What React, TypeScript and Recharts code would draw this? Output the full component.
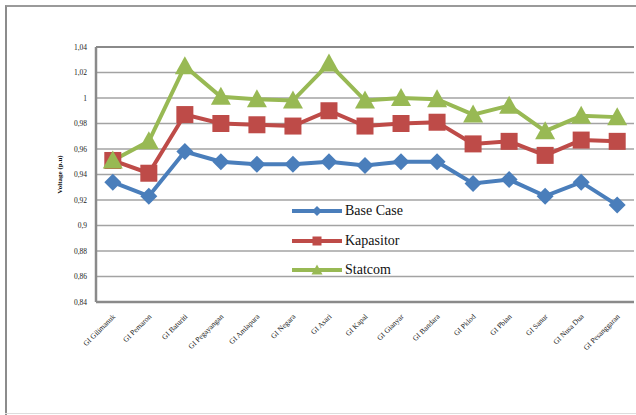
import React from 'react';
import { LineChart, Line, XAxis, YAxis, CartesianGrid, ReferenceLine } from 'recharts';

const categories = ['GI Gilimanuk', 'GI Pemaron', 'GI Baturiti', 'GI Pegayangan', 'GI Amlapura', 'GI Negara', 'GI Asari', 'GI Kapal', 'GI Gianyar', 'GI Bandara', 'GI Pklod', 'GI Pbian', 'GI Sanur', 'GI Nusa Dua', 'GI Pesanggaran'];
const baseCase = [0.934, 0.923, 0.958, 0.950, 0.948, 0.948, 0.950, 0.947, 0.950, 0.950, 0.933, 0.936, 0.923, 0.934, 0.916];
const kapasitor = [0.951, 0.941, 0.987, 0.980, 0.979, 0.978, 0.990, 0.978, 0.980, 0.981, 0.964, 0.966, 0.955, 0.967, 0.966];
const statcom = [0.951, 0.966, 1.025, 1.001, 0.999, 0.998, 1.027, 0.998, 1.000, 0.999, 0.987, 0.994, 0.974, 0.986, 0.985];
const yTicks = [0.84, 0.86, 0.88, 0.9, 0.92, 0.94, 0.96, 0.98, 1, 1.02, 1.04];

const data = categories.map((c, i) => ({ name: c, base: baseCase[i], kap: kapasitor[i], stat: statcom[i] }));

const BLUE = '#4a7ebb';
const RED = '#be4b48';
const GREEN = '#98b954';
const SERIF = "'Liberation Serif', 'DejaVu Serif', serif";

const diamondPts = (cx: number, cy: number, r: number) => `${cx},${cy - r} ${cx + r},${cy} ${cx},${cy + r} ${cx - r},${cy}`;
const triPts = (cx: number, cy: number, s: number) => `${cx},${cy - 10 * s} ${cx + 10 * s},${cy + 8 * s} ${cx - 10 * s},${cy + 8 * s}`;

const diamondDot = (p: any) => {
  if (p.cx == null || p.cy == null) return <g key={p.index} />;
  return <polygon key={`d${p.index}`} points={diamondPts(p.cx, p.cy, 8.5)} fill={BLUE} />;
};
const squareDot = (p: any) => {
  if (p.cx == null || p.cy == null) return <g key={p.index} />;
  return <rect key={`s${p.index}`} x={p.cx - 8.5} y={p.cy - 8.5} width={17} height={17} fill={RED} />;
};
const triDot = (p: any) => {
  if (p.cx == null || p.cy == null) return <g key={p.index} />;
  return <polygon key={`t${p.index}`} points={triPts(p.cx, p.cy, 1)} fill={GREEN} />;
};

const XTick = (props: any) => {
  const { x, y, payload } = props;
  return (
    <text x={x + 3} y={y + 7} transform={`rotate(-45 ${x + 3} ${y + 7})`} textAnchor="end" fontSize={7.5} fontFamily={SERIF} fill="#222">
      {payload.value}
    </text>
  );
};

const fmt = (v: number) => String(Number(v.toFixed(2))).replace('.', ',');

const legendItems = [
  { label: 'Base Case', color: BLUE, kind: 'd' },
  { label: 'Kapasitor', color: RED, kind: 's' },
  { label: 'Statcom', color: GREEN, kind: 't' },
];

const LegendBox = () => (
  <div style={{ position: 'absolute', left: 290, top: 201, width: 140, height: 90 }}>
    {legendItems.map((it, i) => (
      <div key={it.label} style={{ position: 'absolute', left: 0, top: i * 29.5, height: 20, display: 'flex', alignItems: 'center', whiteSpace: 'nowrap' }}>
        <svg width={54} height={20}>
          <line x1={2} y1={10} x2={52} y2={10} stroke={it.color} strokeWidth={4} />
          {it.kind === 'd' && <polygon points={diamondPts(27, 10, 5)} fill={it.color} />}
          {it.kind === 's' && <rect x={22.5} y={5.5} width={9} height={9} fill={it.color} />}
          {it.kind === 't' && <polygon points={triPts(27, 10, 0.55)} fill={it.color} />}
        </svg>
        <span style={{ fontFamily: SERIF, fontSize: 14, color: '#111', marginLeft: 1, lineHeight: '20px' }}>{it.label}</span>
      </div>
    ))}
  </div>
);

export default function App() {
  return (
    <div style={{ position: 'absolute', left: 0, top: 0, width: 636, height: 415, background: '#fff', overflow: 'hidden', fontFamily: SERIF }}>
      <div style={{ position: 'absolute', left: 5, top: 5, width: 640, height: 420, borderLeft: '2px solid #8c8c8c', borderTop: '2px solid #9a9a9a' }} />
      <div style={{ position: 'absolute', left: 5, top: 413, width: 640, height: 0, borderTop: '1px solid #dddddd' }} />
      <div style={{ position: 'absolute', left: 0, top: 0 }}>
        <LineChart width={636} height={415} data={data} margin={{ top: 47, right: 2, bottom: 53, left: 56 }}>
          <CartesianGrid vertical={false} stroke="#a3a3a3" strokeWidth={1.5} />
          <ReferenceLine y={1.04} stroke="#8a8a8a" strokeWidth={2} />
          <XAxis
            dataKey="name"
            interval={0}
            tick={<XTick />}
            tickLine={false}
            axisLine={{ stroke: '#8a8a8a', strokeWidth: 2.5 }}
            padding={{ left: 16.8, right: 16.8 }}
            height={60}
          />
          <YAxis
            width={40}
            domain={[0.84, 1.04]}
            ticks={yTicks}
            tickFormatter={fmt}
            tickLine={false}
            axisLine={{ stroke: '#8a8a8a', strokeWidth: 2.5 }}
            tick={{ fontSize: 7.5, fontFamily: SERIF, fill: '#222' }}
            tickMargin={3}
            allowDataOverflow
            label={{ value: 'Voltage (p.u)', angle: -90, position: 'insideLeft', offset: 4, style: { fontSize: 7, fontFamily: SERIF, fontWeight: 'bold', fill: '#111', textAnchor: 'middle' } }}
          />
          <Line dataKey="base" name="Base Case" stroke={BLUE} strokeWidth={4} dot={diamondDot} activeDot={false} isAnimationActive={false} />
          <Line dataKey="kap" name="Kapasitor" stroke={RED} strokeWidth={4} dot={squareDot} activeDot={false} isAnimationActive={false} />
          <Line dataKey="stat" name="Statcom" stroke={GREEN} strokeWidth={4} dot={triDot} activeDot={false} isAnimationActive={false} />
        </LineChart>
      </div>
      <LegendBox />
    </div>
  );
}
